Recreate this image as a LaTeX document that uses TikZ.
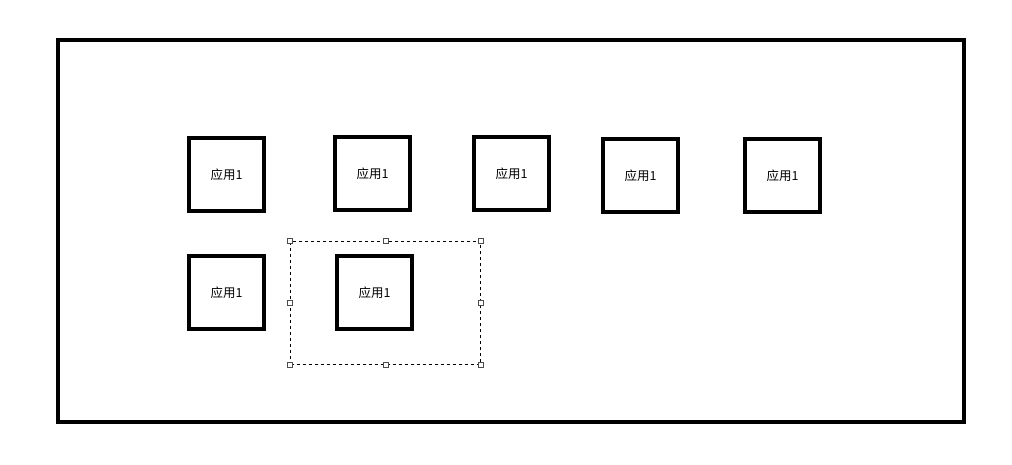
\documentclass[tikz,border=0pt]{standalone}
\usepackage{fontspec}
\newfontfamily\cjk{Noto Sans CJK SC}

\begin{document}
\begin{tikzpicture}[x=1pt,y=-1pt,
    app/.style={draw, line width=4.5pt, minimum width=75pt, minimum height=73pt,
      inner sep=0pt, font=\cjk\fontsize{12.5}{14}\selectfont},
    handle/.style={draw=black!70, fill=white, line width=0.8pt, minimum size=5pt,
      inner sep=0pt}]

	\useasboundingbox (0,0) rectangle (1012,465);

	\node[draw, line width=4.5pt, minimum width=906pt, minimum height=382pt,
        inner sep=0pt] (frame) at (511,231) {};

	\node[app] (app1) at (226.5,174.5) {应用1};
	\node[app] (app2) at (372.5,173.5) {应用1};
	\node[app] (app3) at (511.5,173.5) {应用1};
	\node[app] (app4) at (640.5,175.5) {应用1};
	\node[app] (app5) at (782.5,175.5) {应用1};
	\node[app] (app6) at (226.5,292.5) {应用1};
	\node[app] (app7) at (374.5,292.5) {应用1};

	\node[draw, dashed, line width=0.8pt, minimum width=190pt, minimum height=123pt,
        inner sep=0pt] (sel) at (385.5,302.5) {};
	\foreach \a in {north west,north,north east,west,east,south west,south,south east}
	  \node[handle] at (sel.\a) {};
\end{tikzpicture}
\end{document}
